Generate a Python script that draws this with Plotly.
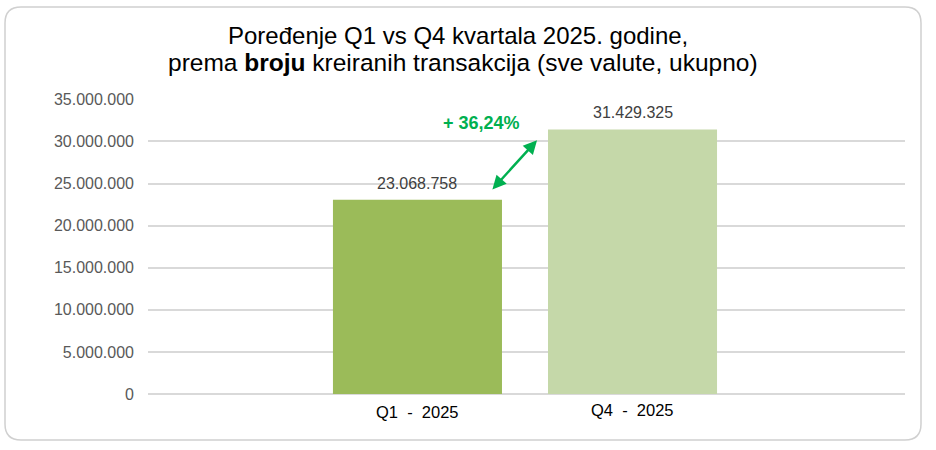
import plotly.graph_objects as go

kvartali = ["Q1 - 2025", "Q4 - 2025"]
transakcije = [23068758, 31429325]
boje = ["#9BBB59", "#C5D8A9"]
rast_tekst = "+ 36,24%"
naslov_1 = "Poređenje Q1 vs Q4 kvartala 2025. godine,"
naslov_2 = "prema <b>broju</b> kreiranih transakcija (sve valute, ukupno)"
y_tikovi = [0, 5000000, 10000000, 15000000, 20000000, 25000000, 30000000, 35000000]

W, H = 936, 450
L, R, T, B = 148, 31, 99, 55
pw, ph = W - L - R, H - T - B


def px(x):
    return (x - L) / pw


def py(y):
    return (H - B - y) / ph


def rounded_box(x0, y0, x1, y1, r):
    # rounded rectangle in paper coords, input in pixels
    pts = [
        f"M {px(x0 + r)},{py(y0)}",
        f"L {px(x1 - r)},{py(y0)}",
        f"Q {px(x1)},{py(y0)} {px(x1)},{py(y0 + r)}",
        f"L {px(x1)},{py(y1 - r)}",
        f"Q {px(x1)},{py(y1)} {px(x1 - r)},{py(y1)}",
        f"L {px(x0 + r)},{py(y1)}",
        f"Q {px(x0)},{py(y1)} {px(x0)},{py(y1 - r)}",
        f"L {px(x0)},{py(y0 + r)}",
        f"Q {px(x0)},{py(y0)} {px(x0 + r)},{py(y0)}",
        "Z",
    ]
    return " ".join(pts)


fig = go.Figure()

fig.add_trace(go.Bar(
    x=[0, 1],
    y=transakcije,
    width=0.786,
    marker=dict(color=boje, line=dict(width=0)),
    hoverinfo="skip",
))

# vrijednosti iznad stubova
for i, v in enumerate(transakcije):
    fig.add_annotation(
        x=i, y=v, xref="x", yref="y", showarrow=False,
        text=f"{v:,d}".replace(",", "."), yanchor="bottom", yshift=6,
        font=dict(color="#404040", size=16),
    )

# strelica izmedju stubova
fig.add_annotation(
    x=0.556, y=30150000, ax=0.342, ay=24120000,
    xref="x", yref="y", axref="x", ayref="y",
    showarrow=True, arrowhead=2, startarrowhead=2, arrowside="end+start",
    arrowsize=1.1, startarrowsize=1.1, arrowwidth=2.5, arrowcolor="#00B050", text="",
)
fig.add_annotation(
    x=0.30, y=32200000, xref="x", yref="y", showarrow=False,
    text=f"<b>{rast_tekst}</b>", font=dict(color="#00B050", size=18),
)

# oznake kvartala
for i, k in enumerate(kvartali):
    fig.add_annotation(
        x=i, y=py(412 - i * 2), xref="x", yref="paper", showarrow=False,
        yanchor="middle",
        text=k.replace(" ", "\u00a0\u00a0"), font=dict(color="#000000", size=16.5),
    )

# naslov u dva reda
fig.add_annotation(x=px(458), y=py(36), xref="paper", yref="paper",
                   showarrow=False, text=naslov_1, yanchor="middle",
                   font=dict(color="#000000", size=24))
fig.add_annotation(x=px(463), y=py(62), xref="paper", yref="paper",
                   showarrow=False, text=naslov_2, yanchor="middle",
                   font=dict(color="#000000", size=24.5))

fig.add_shape(
    type="path", xref="paper", yref="paper",
    path=rounded_box(5, 7, 921, 440, 16),
    line=dict(color="#D0D0D0", width=1.5), fillcolor="rgba(0,0,0,0)",
    layer="below",
)

fig.update_xaxes(
    range=[-1.253, 2.267], showticklabels=False, showgrid=False,
    zeroline=False, showline=False,
)
fig.update_yaxes(
    range=[-120000, 35040000], tickvals=y_tikovi, tickformat=",d",
    showgrid=True, gridcolor="#D9D9D9", gridwidth=1.5,
    zeroline=False, showline=False,
    tickfont=dict(color="#595959", size=16), ticks="", ticklen=0,
    ticklabelstandoff=13,
    automargin=False,
)

fig.update_layout(
    width=W, height=H,
    margin=dict(l=L, r=R, t=T, b=B, autoexpand=False),
    plot_bgcolor="white", paper_bgcolor="white",
    font=dict(family="Liberation Sans, Arial, sans-serif"),
    separators=",.",
    showlegend=False,
)

fig.write_html("out.html", config={"displayModeBar": False},
               post_script="document.body.style.margin='0';")
